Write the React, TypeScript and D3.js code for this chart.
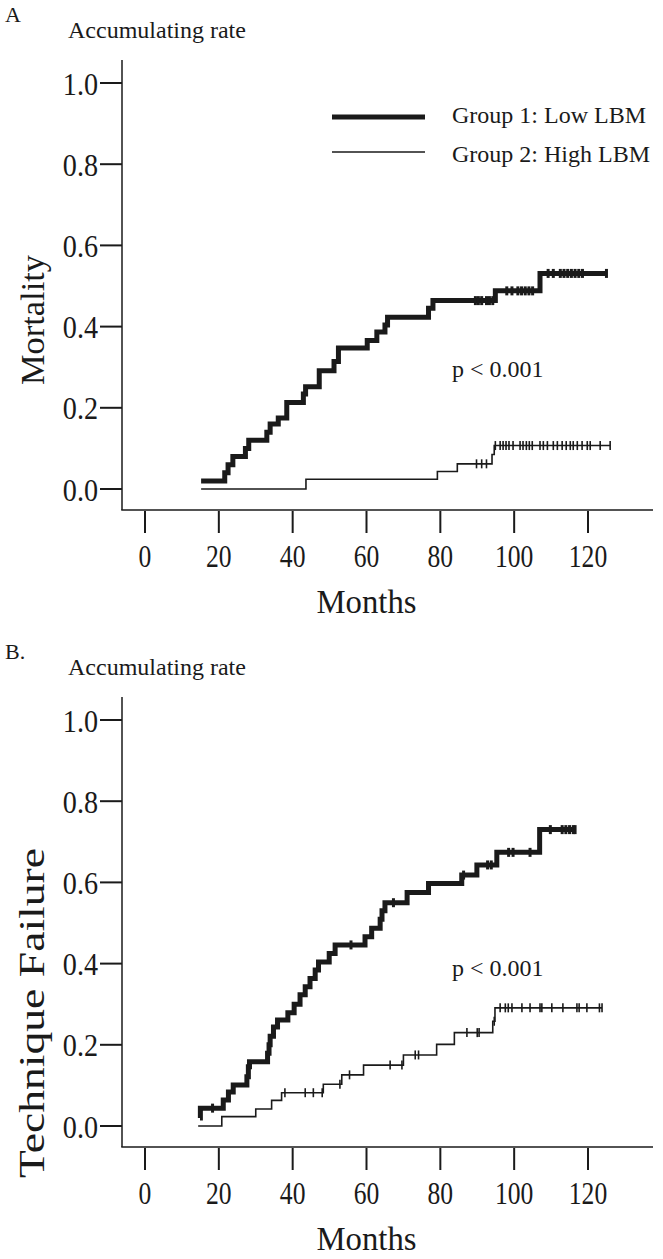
import React from "react";
import * as d3 from "d3";

// ---------- data ----------
const monthTicks = [0, 20, 40, 60, 80, 100, 120];
const rateTicks = [0, 0.2, 0.4, 0.6, 0.8, 1.0];
const rateTickLabels = ["0.0", "0.2", "0.4", "0.6", "0.8", "1.0"];

// Panel A: Mortality
const mortLowSteps: [number, number][] = [
  [15.2, 0.02], [21.6, 0.04], [22.5, 0.06], [23.8, 0.08], [27.2, 0.1], [28.1, 0.12],
  [33.0, 0.14], [33.9, 0.16], [36.1, 0.175], [38.4, 0.213], [42.9, 0.234], [43.5, 0.252],
  [47.2, 0.291], [51.2, 0.314], [52.4, 0.347], [60.2, 0.366], [62.8, 0.387], [65.0, 0.404],
  [65.7, 0.423], [76.8, 0.445], [78.0, 0.464], [94.9, 0.488], [107.0, 0.531],
];
const mortLowEnd = 125;
const mortLowCensor = [
  89.5, 90.3, 91.2, 92.5, 93.3, 94.2, 98.0, 99.4, 101, 102, 103, 104, 105,
  109.2, 110.6, 112.5, 113.5, 114.5, 115.5, 116.5, 117.5, 118.5, 125,
];
const mortHighSteps: [number, number][] = [
  [15.2, 0.0], [43.6, 0.024], [79.2, 0.043], [84.6, 0.062], [94.0, 0.085], [94.6, 0.107],
];
const mortHighEnd = 126;
const mortHighCensor = [
  89.8, 91.2, 92.5, 94.9, 96.2, 97.0, 97.8, 98.6, 99.7, 101.6, 102.4, 103.3, 104.1, 104.9,
  107.0, 107.9, 109.0, 110.6, 111.7, 113.0, 114.1, 115.2, 116.0, 117.1, 118.4, 119.8,
  120.6, 123.3, 126.0,
];

// Panel B: Technique failure
const tfLowSteps: [number, number][] = [
  [14.9, 0.02], [15.0, 0.044], [21.2, 0.064], [22.6, 0.084], [23.9, 0.101], [27.6, 0.121],
  [28.0, 0.146], [28.3, 0.158], [33.2, 0.179], [33.6, 0.2], [33.9, 0.221], [34.8, 0.244],
  [35.9, 0.261], [38.7, 0.279], [40.4, 0.3], [42.0, 0.323], [43.4, 0.343], [44.7, 0.363],
  [46.1, 0.384], [47.0, 0.404], [49.9, 0.425], [51.5, 0.446], [59.6, 0.466], [61.4, 0.487],
  [63.7, 0.509], [64.2, 0.53], [65.0, 0.55], [71.0, 0.575], [76.8, 0.597], [85.8, 0.618],
  [89.9, 0.643], [95.3, 0.674], [106.9, 0.73],
];
const tfLowEnd = 116.5;
const tfLowCensor = [18.3, 55.8, 67.3, 86.3, 92.8, 93.8, 98.5, 99.7, 104.3, 109.8, 113, 114, 115, 116, 116.5];
const tfHighSteps: [number, number][] = [
  [14.4, 0.0], [20.8, 0.023], [30.0, 0.042], [34.3, 0.063], [37.0, 0.082], [48.3, 0.103],
  [53.3, 0.126], [59.2, 0.15], [70.0, 0.175], [79.0, 0.201], [83.8, 0.23], [94.2, 0.258],
  [94.8, 0.291],
];
const tfHighEnd = 123.8;
const tfHighCensor = [
  37.9, 43.4, 45.6, 48.0, 52.8, 55.4, 66.4, 69.6, 73.2, 74.1, 87.2, 90.0, 90.5,
  94.6, 96.2, 97.6, 98.4, 99.4, 102.1, 104.3, 107.0, 107.5, 110.2, 113.2, 117.0, 117.6,
  119.7, 123.1, 123.8,
];

const FONT = "'Liberation Serif', 'Times New Roman', serif";
const INK = "#1a1a1a";

type Steps = [number, number][];

function valueAt(steps: Steps, m: number): number {
  let v = steps[0][1];
  for (const [t, val] of steps) {
    if (t <= m + 1e-9) v = val;
  }
  return v;
}

interface PanelProps {
  top: number;
  letter: string;
  ylabel: string;
  ylabelSize: number;
  ylabelLen: number;
  ylabelCenter: number;
  low: Steps;
  lowEnd: number;
  lowCensor: number[];
  high: Steps;
  highEnd: number;
  highCensor: number[];
  pY: number;
  legend: boolean;
}

function Panel(p: PanelProps) {
  const x = d3.scaleLinear().domain([0, 120]).range([145, 588]);
  const y = d3.scaleLinear().domain([0, 1]).range([489, 83]);
  const line = d3
    .line<[number, number]>()
    .x((d) => x(d[0]))
    .y((d) => y(d[1]))
    .curve(d3.curveStepAfter);
  const lowPts: Steps = [...p.low, [p.lowEnd, p.low[p.low.length - 1][1]]];
  const highPts: Steps = [...p.high, [p.highEnd, p.high[p.high.length - 1][1]]];

  return (
    <g transform={`translate(0,${p.top})`} fontFamily={FONT} fill={INK}>
      <text x={5} y={22} fontSize={22}>{p.letter}</text>
      <text x={68} y={38} fontSize={24}>Accumulating rate</text>

      {/* frame */}
      <line x1={122} x2={122} y1={60} y2={510} stroke={INK} strokeWidth={1.5} />
      <line x1={121.25} x2={653} y1={510} y2={510} stroke={INK} strokeWidth={1.5} />

      {/* y ticks */}
      {rateTicks.map((t, i) => (
        <g key={"y" + i}>
          <line x1={100} x2={122} y1={y(t)} y2={y(t)} stroke={INK} strokeWidth={2} />
          <text
            transform={`translate(98,${y(t) + 11.5}) scale(0.88,1)`}
            fontSize={32}
            textAnchor="end"
          >
            {rateTickLabels[i]}
          </text>
        </g>
      ))}

      {/* x ticks */}
      {monthTicks.map((t) => (
        <g key={"x" + t}>
          <line x1={x(t)} x2={x(t)} y1={511} y2={533} stroke={INK} strokeWidth={2} />
          <text
            transform={`translate(${x(t)},567) scale(0.8,1)`}
            fontSize={32}
            textAnchor="middle"
          >
            {t}
          </text>
        </g>
      ))}
      <text x={x(60)} y={613} fontSize={34} textAnchor="middle" textLength={100} lengthAdjust="spacingAndGlyphs">
        Months
      </text>

      {/* y label */}
      <text
        transform={`translate(44,${p.ylabelCenter}) rotate(-90)`}
        fontSize={p.ylabelSize}
        textAnchor="middle"
        textLength={p.ylabelLen}
        lengthAdjust="spacingAndGlyphs"
      >
        {p.ylabel}
      </text>

      {/* curves */}
      <path d={line(highPts) || ""} fill="none" stroke={INK} strokeWidth={1.6} />
      <path d={line(lowPts) || ""} fill="none" stroke={INK} strokeWidth={5} />

      {p.highCensor.map((m, i) => (
        <line
          key={"hc" + i}
          x1={x(m)}
          x2={x(m)}
          y1={y(valueAt(p.high, m)) - 4.5}
          y2={y(valueAt(p.high, m)) + 4.5}
          stroke={INK}
          strokeWidth={1.6}
        />
      ))}
      {p.lowCensor.map((m, i) => (
        <line
          key={"lc" + i}
          x1={x(m)}
          x2={x(m)}
          y1={y(valueAt(p.low, m)) - 4.5}
          y2={y(valueAt(p.low, m)) + 4.5}
          stroke={INK}
          strokeWidth={3}
        />
      ))}

      <text x={452} y={p.pY} fontSize={24}>p &lt; 0.001</text>

      {p.legend && (
        <g>
          <line x1={332} x2={425} y1={117} y2={117} stroke={INK} strokeWidth={5} />
          <line x1={332} x2={425} y1={152} y2={152} stroke={INK} strokeWidth={1.6} />
          <text x={452} y={123} fontSize={24}>Group 1: Low LBM</text>
          <text x={452} y={162} fontSize={24}>Group 2: High LBM</text>
        </g>
      )}
    </g>
  );
}

export default function App() {
  return (
    <svg
      width={663}
      height={1259}
      style={{ position: "absolute", left: 0, top: 0, background: "#fff" }}
    >
      <rect width={663} height={1259} fill="#fff" />
      <Panel
        top={0}
        letter="A"
        ylabel="Mortality"
        ylabelSize={34}
        ylabelLen={130}
        ylabelCenter={320}
        low={mortLowSteps}
        lowEnd={mortLowEnd}
        lowCensor={mortLowCensor}
        high={mortHighSteps}
        highEnd={mortHighEnd}
        highCensor={mortHighCensor}
        pY={377}
        legend={true}
      />
      <Panel
        top={637}
        letter="B."
        ylabel="Technique Failure"
        ylabelSize={36}
        ylabelLen={330}
        ylabelCenter={376}
        low={tfLowSteps}
        lowEnd={tfLowEnd}
        lowCensor={tfLowCensor}
        high={tfHighSteps}
        highEnd={tfHighEnd}
        highCensor={tfHighCensor}
        pY={339}
        legend={false}
      />
    </svg>
  );
}
